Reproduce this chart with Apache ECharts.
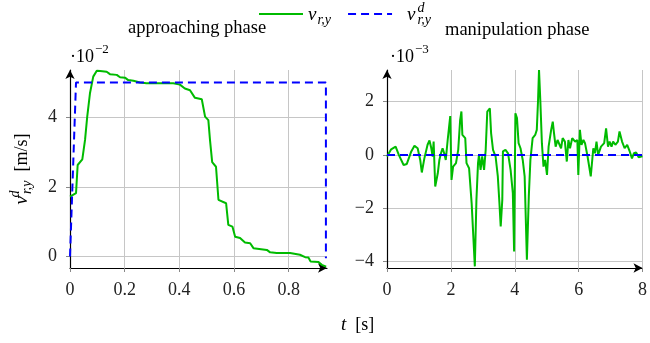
<!DOCTYPE html>
<html>
<head>
<meta charset="utf-8">
<script src="https://cdn.jsdelivr.net/npm/echarts@6/dist/echarts.min.js"></script>
<style>
html,body{margin:0;padding:0;background:#fff;}
#chart{width:650px;height:343px;}
</style>
</head>
<body>
<div id="chart"></div>
<script>
// approaching phase: t [s], v in 1e-2 m/s
var approachT = [0, 0.022, 0.028, 0.045, 0.055, 0.063, 0.073, 0.085, 0.098, 0.11, 0.134, 0.146, 0.171, 0.183, 0.201, 0.213, 0.232, 0.256, 0.28, 0.378, 0.402, 0.42, 0.439, 0.457, 0.482, 0.494, 0.506, 0.512, 0.52, 0.534, 0.543, 0.571, 0.579, 0.594, 0.604, 0.622, 0.64, 0.659, 0.671, 0.72, 0.732, 0.756, 0.805, 0.841, 0.86, 0.872, 0.88, 0.909, 0.921, 0.937];
var approachV = [1.72, 1.82, 2.63, 2.79, 3.35, 4.02, 4.69, 5.17, 5.34, 5.33, 5.31, 5.24, 5.22, 5.15, 5.14, 5.07, 5.05, 5.0, 4.98, 4.98, 4.94, 4.83, 4.78, 4.56, 4.52, 4.02, 3.92, 3.35, 2.71, 2.58, 1.63, 1.53, 0.91, 0.86, 0.57, 0.53, 0.40, 0.38, 0.24, 0.19, 0.12, 0.10, 0.10, 0.05, -0.02, -0.03, -0.14, -0.16, -0.24, -0.29];
var approachRefT = [0, 0.022, 0.936, 0.936];
var approachRefV = [0, 5, 5, -0.05];

// manipulation phase: t [s], v in 1e-3 m/s
var manipT = [0, 0.13, 0.27, 0.37, 0.52, 0.62, 0.76, 0.86, 0.96, 1.04, 1.09, 1.17, 1.27, 1.33, 1.38, 1.43, 1.46, 1.51, 1.59, 1.64, 1.69, 1.74, 1.79, 1.84, 1.90, 1.95, 1.98, 2.02, 2.07, 2.16, 2.23, 2.29, 2.33, 2.36, 2.45, 2.49, 2.57, 2.65, 2.75, 2.80, 2.85, 2.88, 2.93, 2.98, 3.04, 3.09, 3.14, 3.19, 3.22, 3.26, 3.32, 3.40, 3.47, 3.52, 3.56, 3.61, 3.63, 3.71, 3.79, 3.87, 3.94, 3.98, 4.02, 4.07, 4.12, 4.18, 4.25, 4.31, 4.38, 4.44, 4.49, 4.56, 4.64, 4.69, 4.73, 4.76, 4.80, 4.85, 4.90, 4.95, 5.01, 5.06, 5.14, 5.19, 5.23, 5.28, 5.34, 5.39, 5.45, 5.50, 5.57, 5.63, 5.68, 5.73, 5.80, 5.89, 5.96, 5.99, 6.04, 6.09, 6.15, 6.20, 6.28, 6.38, 6.46, 6.51, 6.56, 6.61, 6.70, 6.80, 6.86, 6.92, 6.97, 7.03, 7.08, 7.15, 7.23, 7.28, 7.36, 7.44, 7.52, 7.60, 7.67, 7.73, 7.80, 7.88, 7.96, 8.0];
var manipV = [-0.06, 0.21, 0.31, 0.0, -0.38, -0.34, 0.13, 0.34, 0.25, -0.19, -0.66, -0.13, 0.38, 0.54, 0.29, -0.06, 0.5, -1.19, -0.69, -0.19, 0.06, 0.25, 0.06, -0.19, 0.56, 0.63, 1.46, -0.94, -0.44, -0.31, 0.19, 1.31, 1.63, 0.75, 0.63, -0.31, -0.5, -1.81, -4.19, -1.69, -0.31, 0.0, -0.56, -0.06, -0.56, 0.19, 1.63, 1.56, 1.75, 0.81, 0.19, -0.06, -0.81, -1.81, -2.69, -1.69, 0.13, 0.19, 0.06, -0.56, -1.44, -3.63, 1.56, 1.38, 0.44, 0.25, -0.19, -0.81, -3.94, -1.56, -0.19, 0.63, 0.75, 0.94, 2.06, 3.19, 2.06, 0.44, -0.44, -0.19, -0.75, 0.31, 0.94, 1.25, 0.81, 0.31, 0.56, 0.5, 0.25, 0.63, 0.5, -0.25, 0.56, 0.25, 0.63, 0.5, 0.56, -0.75, 0.94, 0.38, 0.56, 0.44, -0.06, -0.81, 0.25, 0.06, 0.5, 0.0, 0.31, 0.44, 1.0, 0.31, 0.5, 0.31, 0.5, 0.38, 0.5, 0.88, 0.5, 0.25, 0.38, 0.13, -0.13, 0.06, 0.09, -0.09, -0.06, -0.05];
var manipRefT = [0, 8];
var manipRefV = [0, 0];

var leftXTicks = [0, 0.2, 0.4, 0.6, 0.8];
var leftYTicks = [0, 2, 4];
var rightXTicks = [0, 2, 4, 6, 8];
var rightYTicks = [-4, -2, 0, 2];

function zip(a, b) {
	return a.map(function (v, i) { return [v, b[i]]; });
}

var serif = 'Liberation Serif';
var green = '#00bb00';
var blue = '#0000ff';
var gridColor = '#c6c6c6';

function txt(size, extra) {
	var s = { fontFamily: serif, fontWeight: 'normal', fontSize: size, color: '#000', verticalAlign: 'top' };
	for (var k in extra) s[k] = extra[k];
	return s;
}

var mathRich = {
	v: txt(19, { fontStyle: 'italic', padding: [4, 1, 0, 0] }),
	v2: txt(19, { fontStyle: 'italic', padding: [4, 1, 0, 10] }),
	sup: txt(14, { fontStyle: 'italic', padding: [0, 0, 0, 1], width: 0 }),
	sub: txt(14, { fontStyle: 'italic', padding: [12, 0, 0, 0] }),
	n: txt(18, { padding: [5, 0, 0, 0] })
};

function minus(v) {
	return String(v).replace('-', '\u2212');
}

function xAxis(idx, max, ticks) {
	return {
		type: 'value', gridIndex: idx, min: 0, max: max,
		axisLine: { show: true, onZero: false, lineStyle: { color: '#000', width: 1.2 }, symbol: ['none', 'arrow'], symbolSize: [7, 9] },
		axisTick: { show: true, length: 4, customValues: ticks, lineStyle: { color: '#888' } },
		axisLabel: { customValues: ticks, margin: 13, fontFamily: serif, fontSize: 18, color: '#222', formatter: minus },
		splitLine: { show: true, lineStyle: { color: gridColor, width: 1 } }
	};
}

function yAxis(idx, min, max, ticks) {
	return {
		type: 'value', gridIndex: idx, min: min, max: max,
		axisLine: { show: true, onZero: false, lineStyle: { color: '#000', width: 1.2 }, symbol: ['none', 'arrow'], symbolSize: [7, 9] },
		axisTick: { show: true, length: 4, customValues: ticks, lineStyle: { color: '#888' } },
		axisLabel: { customValues: ticks, margin: 13, fontFamily: serif, fontSize: 18, color: '#222', formatter: minus },
		splitLine: { show: true, lineStyle: { color: gridColor, width: 1 } }
	};
}

var chart = echarts.init(document.getElementById('chart'));

var yl = yAxis(0, -0.33, 5.36, leftYTicks);
yl.name = '{v|v}{sup|d}{sub|r,y}{n|  [m/s]}';
yl.nameLocation = 'middle';
yl.nameRotate = 90;
yl.nameGap = 36;
yl.nameTextStyle = { rich: mathRich };

var expRich = {
	a: txt(18, { padding: [5, 0, 0, 0] }),
	e: txt(13, { padding: [0, 0, 0, 1] })
};

var option = {
	animation: false,
	backgroundColor: '#fff',
	title: [
		{ text: 'approaching phase', left: 128, top: 19, padding: 0, textStyle: { fontFamily: serif, fontWeight: 'normal', fontSize: 18.5, color: '#000' } },
		{ text: 'manipulation phase', left: 445, top: 21, padding: 0, textStyle: { fontFamily: serif, fontWeight: 'normal', fontSize: 18.5, color: '#000' } },
		{ text: '{a|\u00b710}{e|\u22122}', left: 70, top: 43, padding: 0, textStyle: { fontWeight: 'normal', rich: expRich } },
		{ text: '{a|\u00b710}{e|\u22123}', left: 390, top: 43, padding: 0, textStyle: { fontWeight: 'normal', rich: expRich } },
		{ text: '{i|t}{n|  [s]}', left: 341, top: 315, padding: 0, textStyle: { fontWeight: 'normal', rich: {
			i: txt(19, { fontStyle: 'italic' }),
			n: txt(18, { padding: [1, 0, 0, 0] }) } } }
	],
	legend: {
		left: 258, top: 1, padding: 0,
		itemWidth: 44, itemHeight: 14, itemGap: 16,
		itemStyle: { opacity: 0 },
		data: ['vr', 'vd'],
		formatter: function (name) {
			return name === 'vr' ? '{v|v}{sub|r,y}' : '{v2|v}{sup|d}{sub|r,y}';
		},
		textStyle: { fontWeight: 'normal', rich: mathRich }
	},
	grid: [
		{ left: 70, top: 70, width: 257, height: 198 },
		{ left: 387, top: 70, width: 256, height: 198 }
	],
	xAxis: [xAxis(0, 0.94, leftXTicks), xAxis(1, 8, rightXTicks)],
	yAxis: [yl, yAxis(1, -4.25, 3.19, rightYTicks)],
	series: [
		{ name: 'vr', type: 'line', xAxisIndex: 0, yAxisIndex: 0, symbol: 'none', lineStyle: { color: green, width: 2 }, itemStyle: { color: green }, data: zip(approachT, approachV) },
		{ name: 'vd', type: 'line', xAxisIndex: 0, yAxisIndex: 0, symbol: 'none', lineStyle: { color: blue, width: 2, type: [8, 5] }, itemStyle: { color: blue }, data: zip(approachRefT, approachRefV) },
		{ name: 'vr', type: 'line', xAxisIndex: 1, yAxisIndex: 1, symbol: 'none', lineStyle: { color: green, width: 2 }, itemStyle: { color: green }, data: zip(manipT, manipV) },
		{ name: 'vd', type: 'line', xAxisIndex: 1, yAxisIndex: 1, symbol: 'none', lineStyle: { color: blue, width: 2, type: [8, 5] }, itemStyle: { color: blue }, data: zip(manipRefT, manipRefV) }
	]
};

chart.setOption(option);
</script>
</body>
</html>
